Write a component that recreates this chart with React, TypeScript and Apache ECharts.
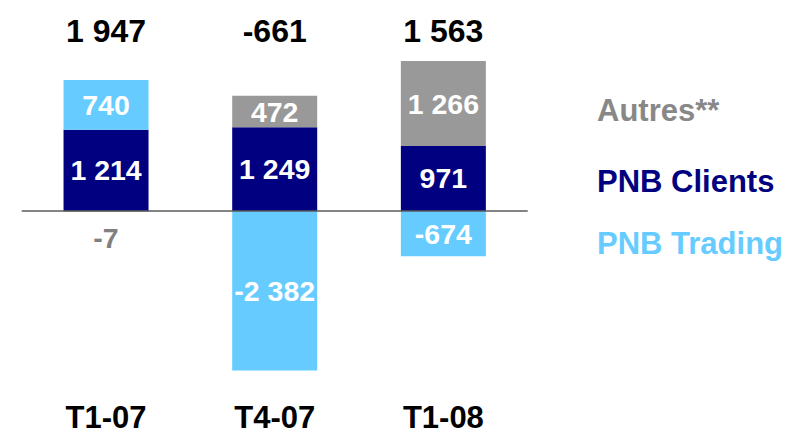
import React, { useEffect, useRef } from "react";
import * as echarts from "echarts";

const categories = ["T1-07", "T4-07", "T1-08"];
const clients = [1214, 1249, 971];
const trading = [740, -2382, -674];
const autres = [-7, 472, 1266];

const C_CLIENTS = "#000080";
const C_TRADING = "#66CCFF";
const C_AUTRES = "#999999";
const FONT = "'Liberation Sans', Arial, sans-serif";

const fmt = (n: number) => {
  const s = Math.abs(n).toString().replace(/\B(?=(\d{3})+(?!\d))/g, " ");
  return (n < 0 ? "-" : "") + s;
};

const totals = categories.map((_, i) => clients[i] + trading[i] + autres[i]);

export default function App() {
  const ref = useRef<HTMLDivElement>(null);
  useEffect(() => {
    const chart = echarts.init(ref.current!, null, { renderer: "svg" });
    const inLabel = {
      show: true,
      position: "inside",
      color: "#ffffff",
      fontSize: 28.5,
      fontWeight: "bold",
      fontFamily: FONT,
      formatter: (p: any) => fmt(p.value),
    };
    const legendText = { fontSize: 31, fontWeight: "bold", fontFamily: FONT };
    const mkLegend = (name: string, color: string, top: number) => ({
      data: [{ name, textStyle: { ...legendText, color } }],
      left: 592,
      top,
      padding: 0,
      icon: "none",
      itemWidth: 0,
      selectedMode: false,
      textStyle: { ...legendText, color },
    });
    chart.setOption({
      animation: false,
      grid: { left: 21.7, width: 506, top: 50.2, height: 321.6 },
      legend: [
        mkLegend("Autres**", "#888888", 95),
        mkLegend("PNB Clients", C_CLIENTS, 166),
        mkLegend("PNB Trading", C_TRADING, 228),
      ],
      xAxis: [
        {
          type: "category",
          data: categories,
          position: "bottom",
          axisLine: { show: false },
          axisTick: { show: false },
          axisLabel: {
            margin: 33,
            fontSize: 31,
            lineHeight: 26,
            fontWeight: "bold",
            color: "#000",
            fontFamily: FONT,
          },
        },
        {
          type: "category",
          data: totals.map(fmt),
          position: "top",
          axisLine: { show: false },
          axisTick: { show: false },
          axisLabel: { margin: 3, fontSize: 32, fontWeight: "bold", color: "#000", fontFamily: FONT },
        },
      ],
      yAxis: { type: "value", min: -2400, max: 2400, show: false, splitLine: { show: false } },
      series: [
        {
          name: "PNB Clients",
          type: "bar",
          stack: "pnb",
          barWidth: 85,
          data: clients,
          itemStyle: { color: C_CLIENTS },
          label: inLabel,
          markLine: {
            silent: true,
            symbol: "none",
            label: { show: false },
            lineStyle: { color: "#5a5a5a", width: 1.5, type: "solid" },
            data: [{ yAxis: 0 }],
          },
        },
        {
          name: "PNB Trading",
          type: "bar",
          stack: "pnb",
          barWidth: 85,
          data: trading,
          itemStyle: { color: C_TRADING },
          label: inLabel,
        },
        {
          name: "Autres**",
          type: "bar",
          stack: "pnb",
          barWidth: 85,
          data: autres.map((v) =>
            Math.abs(v) < 100
              ? { value: v, label: { position: "bottom", distance: 12, color: "#808080" } }
              : v
          ),
          itemStyle: { color: C_AUTRES },
          label: inLabel,
        },
      ],
    });
    return () => chart.dispose();
  }, []);
  return (
    <div
      ref={ref}
      style={{ position: "fixed", left: 0, top: 0, width: 787, height: 434, background: "#fff" }}
    />
  );
}
